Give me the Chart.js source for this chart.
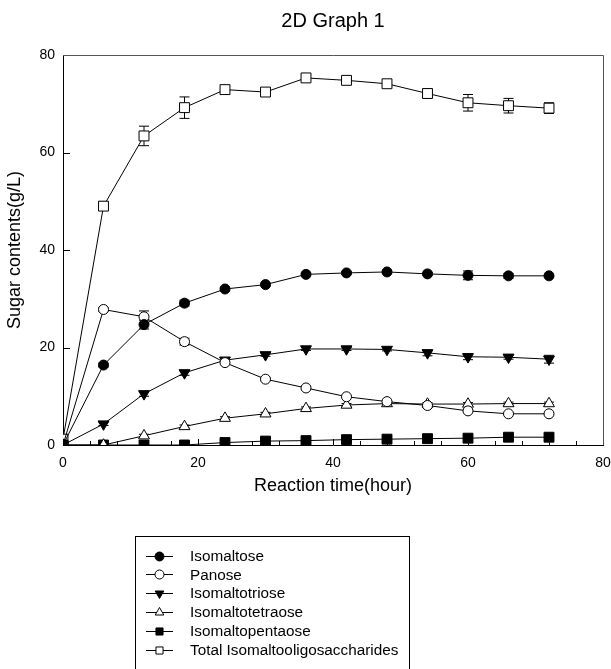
<!DOCTYPE html>
<html>
<head>
<meta charset="utf-8">
<title>2D Graph 1</title>
<script src="https://cdn.jsdelivr.net/npm/chart.js@4"></script>
<style>
  html, body { margin: 0; padding: 0; background: #fff; }
  #wrap { width: 611px; height: 669px; }
</style>
</head>
<body>
<div id="wrap"><canvas id="chart" width="611" height="669"></canvas></div>
<script>
// reaction time (hour) and sugar contents (g/L)
const hours = [0, 6, 12, 18, 24, 30, 36, 42, 48, 54, 60, 66, 72];

const isomaltose       = [0, 16.4, 24.7, 29.1, 32.0, 32.9, 35.0, 35.3, 35.5, 35.1, 34.8, 34.7, 34.7];
const panose           = [0, 27.8, 26.3, 21.2, 16.9, 13.5, 11.7, 9.9, 8.9, 8.1, 7.0, 6.4, 6.4];
const isomaltotriose   = [0, 4.3, 10.5, 14.8, 17.4, 18.5, 19.7, 19.7, 19.6, 18.9, 18.1, 18.0, 17.6];
const isomaltotetraose = [0, 0, 1.9, 3.8, 5.5, 6.4, 7.5, 8.2, 8.5, 8.4, 8.4, 8.5, 8.5];
const isomaltopentaose = [0, 0, 0, 0, 0.5, 0.8, 0.9, 1.1, 1.2, 1.3, 1.4, 1.6, 1.6];
const totalIMO         = [1.2, 49.0, 63.4, 69.2, 72.9, 72.4, 75.3, 74.8, 74.1, 72.1, 70.2, 69.6, 69.1];

// standard deviations (error bars)
const isomaltoseErr       = [0, 0.4, 0.9, 0.6, 0.4, 0.3, 0.3, 0.3, 0.3, 0.3, 0.9, 0.5, 0.3];
const panoseErr           = [0, 0.4, 1.2, 0.7, 0.3, 0.3, 0.3, 0.2, 0.3, 0.2, 0.3, 0.2, 0.2];
const isomaltotrioseErr   = [0, 0.3, 0.5, 0.5, 0.4, 0.3, 0.3, 0.3, 0.3, 0.6, 0.6, 0.4, 0.8];
const isomaltotetraoseErr = [0, 0.1, 0.3, 0.3, 0.3, 0.3, 0.3, 0.3, 0.3, 0.3, 0.3, 0.3, 0.3];
const isomaltopentaoseErr = [0, 0, 0, 0, 0.1, 0.1, 0.1, 0.1, 0.1, 0.1, 0.1, 0.1, 0.1];
const totalIMOErr         = [0, 0.9, 2.0, 2.2, 0.8, 0.5, 0.5, 0.3, 0.3, 0.9, 1.7, 1.5, 1.1];

const xTicks = [0, 20, 40, 60, 80];
const yTicks = [0, 20, 40, 60, 80];

const FONT = "'Liberation Sans', Arial, sans-serif";

function series(label, values, errors, style, fill, radius, rotation) {
    return {
        label: label,
        data: hours.map((h, i) => ({ x: h, y: values[i] })),
        errors: errors,
        borderColor: '#000',
        borderWidth: 1,
        tension: 0,
        pointStyle: style,
        pointRadius: radius,
        pointHoverRadius: radius,
        pointRotation: rotation || 0,
        pointBackgroundColor: fill,
        pointBorderColor: '#000',
        pointBorderWidth: 1
    };
}

// error bars + inward tick marks, drawn under the markers
const underlayPlugin = {
    id: 'underlay',
    beforeDatasetsDraw(chart) {
        const ctx = chart.ctx;
        const xs = chart.scales.x, ys = chart.scales.y;
        const area = chart.chartArea;
        ctx.save();
        ctx.strokeStyle = '#000';
        ctx.lineWidth = 1;

        // x ticks: major every 20, minor every 4
        for (let v = 4; v < 80; v += 4) {
            const px = Math.round(xs.getPixelForValue(v)) + 0.5;
            const len = v % 20 === 0 ? 6 : 4;
            ctx.beginPath();
            ctx.moveTo(px, area.bottom);
            ctx.lineTo(px, area.bottom - len);
            ctx.stroke();
        }
        yTicks.forEach(v => {
            if (v === 0 || v === 80) return;
            const py = Math.round(ys.getPixelForValue(v)) + 0.5;
            ctx.beginPath();
            ctx.moveTo(area.left, py);
            ctx.lineTo(area.left + 7, py);
            ctx.stroke();
        });

        chart.data.datasets.forEach(ds => {
            ds.data.forEach((p, i) => {
                const e = ds.errors[i];
                if (!e) return;
                const px = xs.getPixelForValue(p.x);
                const top = ys.getPixelForValue(p.y + e);
                const bot = ys.getPixelForValue(p.y - e);
                ctx.beginPath();
                ctx.moveTo(px, top); ctx.lineTo(px, bot);
                ctx.moveTo(px - 5, top); ctx.lineTo(px + 5, top);
                ctx.moveTo(px - 5, bot); ctx.lineTo(px + 5, bot);
                ctx.stroke();
            });
        });
        ctx.restore();
    },
    afterDraw(chart) {
        const ctx = chart.ctx;
        const area = chart.chartArea;
        ctx.save();

        // top / right frame
        ctx.strokeStyle = '#555';
        ctx.lineWidth = 1;
        ctx.beginPath();
        ctx.moveTo(area.left, area.top + 0.5);
        ctx.lineTo(area.right + 0.5, area.top + 0.5);
        ctx.lineTo(area.right + 0.5, area.bottom);
        ctx.stroke();

        // title
        ctx.fillStyle = '#000';
        ctx.font = '20px ' + FONT;
        ctx.textAlign = 'center';
        ctx.textBaseline = 'alphabetic';
        ctx.fillText('2D Graph 1', (area.left + area.right) / 2, 27);

        // legend box
        ctx.strokeStyle = '#000';
        ctx.strokeRect(135.5, 536.5, 274, 200);
        ctx.font = '15.3px ' + FONT;
        ctx.textAlign = 'left';
        ctx.textBaseline = 'middle';
        chart.data.datasets.forEach((ds, i) => {
            const y = 555.5 + i * 18.85;
            ctx.strokeStyle = '#000';
            ctx.lineWidth = 1;
            ctx.beginPath();
            ctx.moveTo(146, Math.round(y) + 0.5);
            ctx.lineTo(173, Math.round(y) + 0.5);
            ctx.stroke();
            ctx.fillStyle = ds.pointBackgroundColor;
            Chart.helpers.drawPoint(ctx, {
                pointStyle: ds.pointStyle,
                radius: ds.pointStyle === 'rect' ? 5 : (ds.pointStyle === 'triangle' ? 5 : 4.5),
                rotation: ds.pointRotation,
                borderWidth: 1
            }, 159.5, Math.round(y) + 0.5);
            ctx.fillStyle = '#000';
            ctx.fillText(ds.label, 190, y + 1);
        });
        ctx.restore();
    }
};

document.addEventListener('DOMContentLoaded', function () {
    const ctx = document.getElementById('chart').getContext('2d');
    new Chart(ctx, {
        type: 'line',
        data: {
            datasets: [
                series('Isomaltose', isomaltose, isomaltoseErr, 'circle', '#000', 5),
                series('Panose', panose, panoseErr, 'circle', '#fff', 5),
                series('Isomaltotriose', isomaltotriose, isomaltotrioseErr, 'triangle', '#000', 6.3, 180),
                series('Isomaltotetraose', isomaltotetraose, isomaltotetraoseErr, 'triangle', '#fff', 6.3),
                series('Isomaltopentaose', isomaltopentaose, isomaltopentaoseErr, 'rect', '#000', 7),
                series('Total Isomaltooligosaccharides', totalIMO, totalIMOErr, 'rect', '#fff', 7)
            ]
        },
        options: {
            responsive: false,
            animation: false,
            devicePixelRatio: 1,
            layout: { padding: { top: 55, left: 0, right: 0, bottom: 164 } },
            plugins: {
                legend: { display: false },
                title: { display: false },
                tooltip: { enabled: false }
            },
            scales: {
                x: {
                    type: 'linear',
                    min: 0,
                    max: 80,
                    afterBuildTicks: s => { s.ticks = xTicks.map(v => ({ value: v })); },
                    afterFit: s => { s.height = 60; s.paddingRight = 8; },
                    grid: { display: false, drawTicks: false },
                    border: { display: true, color: '#000', width: 1 },
                    ticks: { color: '#000', padding: 10, font: { family: FONT, size: 14 } },
                    title: {
                        display: true,
                        text: 'Reaction time(hour)',
                        color: '#000',
                        font: { family: FONT, size: 18 },
                        padding: { top: 0, bottom: 8 }
                    }
                },
                y: {
                    type: 'linear',
                    min: 0,
                    max: 80,
                    afterBuildTicks: s => { s.ticks = yTicks.map(v => ({ value: v })); },
                    afterFit: s => { s.width = 63; },
                    grid: { display: false, drawTicks: false },
                    border: { display: true, color: '#000', width: 1 },
                    ticks: { color: '#000', padding: 8, font: { family: FONT, size: 14 } },
                    title: {
                        display: true,
                        text: 'Sugar contents(g/L)',
                        color: '#000',
                        font: { family: FONT, size: 18 },
                        padding: { top: 4, bottom: 0 }
                    }
                }
            }
        },
        plugins: [underlayPlugin]
    });
});
</script>
</body>
</html>
